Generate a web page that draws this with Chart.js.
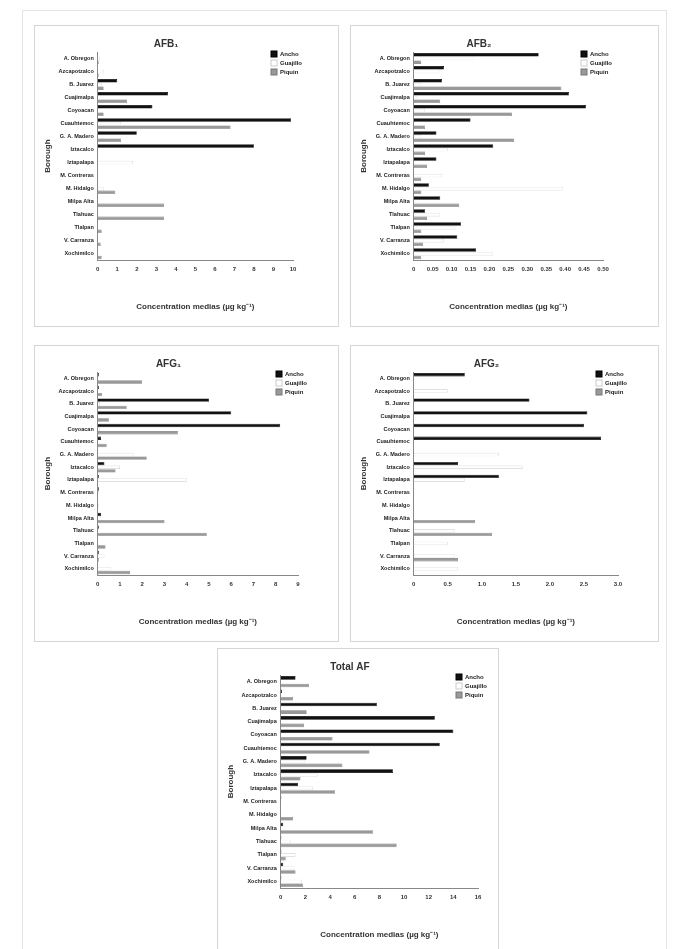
<!DOCTYPE html>
<html><head><meta charset="utf-8">
<script src="https://cdn.jsdelivr.net/npm/chart.js@4.4.0/dist/chart.umd.min.js"></script>
<style>
body{margin:0;background:#fff;width:676px;height:949px;position:relative;overflow:hidden;font-family:"Liberation Sans",Arial,sans-serif}
#frame{position:absolute;left:22px;top:10px;width:643px;height:945px;border:1px solid #e4e4e4}
.p{position:absolute;border:1px solid #d6d6d6;background:#fff}
.p canvas{position:absolute;left:0;top:0}
</style></head><body>
<div id="frame"></div>
<div class="p" style="left:34px;top:25px;width:303px;height:300px"><canvas id="c1"></canvas></div>
<div class="p" style="left:350px;top:25px;width:307px;height:300px"><canvas id="c2"></canvas></div>
<div class="p" style="left:34px;top:345px;width:303px;height:295px"><canvas id="c3"></canvas></div>
<div class="p" style="left:350px;top:345px;width:307px;height:295px"><canvas id="c4"></canvas></div>
<div class="p" style="left:217px;top:648px;width:280px;height:305px"><canvas id="c5"></canvas></div>
<script>
const boroughs = ['A. Obregon','Azcapotzalco','B. Juarez','Cuajimalpa','Coyoacan','Cuauhtemoc','G. A. Madero','Iztacalco','Iztapalapa','M. Contreras','M. Hidalgo','Milpa Alta','Tlahuac','Tlalpan','V. Carranza','Xochimilco'];
const seriesNames = ['Ancho','Guajillo','Piquin'];

const afb1Ancho    = [0,0,1.0,3.6,2.8,9.9,2.0,8.0,0,0,0,0,0,0,0,0];
const afb1Guajillo = [0.1,0.3,0.2,0,0,1.2,0,0,1.8,0,0.3,0,0,0,0,0];
const afb1Piquin   = [0.05,0.05,0.3,1.5,0.3,6.8,1.2,0,0,0,0.9,3.4,3.4,0.2,0.15,0.2];

const afb2Ancho    = [0.33,0.08,0.075,0.41,0.455,0.15,0.06,0.21,0.06,0,0.04,0.07,0.03,0.125,0.115,0.165];
const afb2Guajillo = [0.16,0.07,0.02,0.01,0.03,0,0.02,0.09,0,0.075,0.395,0,0.07,0.11,0.08,0.21];
const afb2Piquin   = [0.02,0,0.39,0.07,0.26,0.03,0.265,0.03,0.035,0.02,0.02,0.12,0.035,0.02,0.025,0.02];

const afg1Ancho    = [0.05,0.05,5.0,6.0,8.2,0.15,0,0.3,0.05,0.05,0,0.15,0.05,0,0.05,0];
const afg1Guajillo = [0,0,0.1,0,0.1,0,1.6,1.0,4.0,0.05,0.05,0,0,0,0.3,0.6];
const afg1Piquin   = [2.0,0.2,1.3,0.5,3.6,0.4,2.2,0.8,0,0,0,3.0,4.9,0.35,0.05,1.45];

const afg2Ancho    = [0.75,0,1.7,2.55,2.5,2.75,0,0.65,1.25,0,0,0,0,0,0,0];
const afg2Guajillo = [0,0.5,0,0,0,0,1.25,1.6,0.75,0,0,0,0.6,0.5,0.6,0.65];
const afg2Piquin   = [0,0,0,0,0,0,0,0,0,0,0,0.9,1.15,0,0.65,0];

const totalAncho    = [1.2,0.1,7.8,12.5,14.0,12.9,2.1,9.1,1.4,0.05,0,0.2,0.05,0.05,0.2,0.05];
const totalGuajillo = [0,0,0,0,0,0,2.0,3.0,2.6,0.05,0.05,0,0.8,1.2,1.1,1.7];
const totalPiquin   = [2.3,1.0,2.1,1.9,4.2,7.2,5.0,1.6,4.4,0,1.0,7.5,9.4,0.4,1.2,1.8];

const fills = ['#111','#fff','#999'];
const edges = ['#000','#ccc','#777'];

// small legend in the top-right corner, like the original figure
const cornerLegend = {
  id: 'cornerLegend',
  afterDraw(chart) {
    const ctx = chart.ctx, a = chart.chartArea;
    const x = a.right - 22, y0 = a.top + 2;
    ctx.save();
    ctx.font = 'bold 6px "Liberation Sans", Arial';
    ctx.textBaseline = 'middle';
    chart.data.datasets.forEach((ds, i) => {
      const y = y0 + i * 9;
      ctx.fillStyle = ds.backgroundColor;
      ctx.strokeStyle = ds.borderColor;
      ctx.fillRect(x, y - 3, 6, 6);
      ctx.strokeRect(x, y - 3, 6, 6);
      ctx.fillStyle = '#222';
      ctx.fillText(ds.label, x + 9, y);
    });
    ctx.restore();
  }
};

function draw(id, title, a, g, p, max, step, dec, right) {
  const el = document.getElementById(id);
  const box = el.parentElement;
  el.width = box.clientWidth; el.height = box.clientHeight;
  new Chart(el, {
    type: 'bar',
    data: {
      labels: boroughs,
      datasets: [a, g, p].map((d, i) => ({
        label: seriesNames[i], data: d,
        backgroundColor: fills[i], borderColor: edges[i], borderWidth: 0.6,
        categoryPercentage: 0.85, barPercentage: 0.95
      }))
    },
    options: {
      indexAxis: 'y', responsive: false, animation: false,
      layout: { padding: { left: 4, right: right, top: 6, bottom: 10 } },
      plugins: {
        legend: { display: false }, tooltip: { enabled: false },
        title: { display: true, text: title, color: '#333', font: { size: 10, weight: 'bold' }, padding: { top: 6, bottom: 2 } }
      },
      scales: {
        x: {
          min: 0, max: max,
          ticks: { stepSize: step, color: '#333', font: { size: 6, weight: 'bold' }, callback: v => v === 0 ? '0' : v.toFixed(dec) },
          grid: { display: false, drawTicks: true, tickLength: 3 },
          border: { color: '#888' },
          title: { display: true, text: 'Concentration medias (µg kg⁻¹)', color: '#333', font: { size: 8, weight: 'bold' }, padding: { top: 26 } }
        },
        y: {
          ticks: { color: '#222', font: { size: 5.5, weight: 'bold' }, autoSkip: false, padding: 2 },
          grid: { display: false, tickLength: 2 },
          border: { color: '#888' },
          title: { display: true, text: 'Borough', color: '#333', font: { size: 8, weight: 'bold' } }
        }
      }
    },
    plugins: [cornerLegend]
  });
}

draw('c1', 'AFB₁', afb1Ancho, afb1Guajillo, afb1Piquin, 10, 1, 0, 45);
draw('c2', 'AFB₂', afb2Ancho, afb2Guajillo, afb2Piquin, 0.5, 0.05, 2, 55);
draw('c3', 'AFG₁', afg1Ancho, afg1Guajillo, afg1Piquin, 9, 1, 0, 40);
draw('c4', 'AFG₂', afg2Ancho, afg2Guajillo, afg2Piquin, 3, 0.5, 1, 40);
draw('c5', 'Total AF', totalAncho, totalGuajillo, totalPiquin, 16, 2, 0, 20);
</script>
</body></html>
